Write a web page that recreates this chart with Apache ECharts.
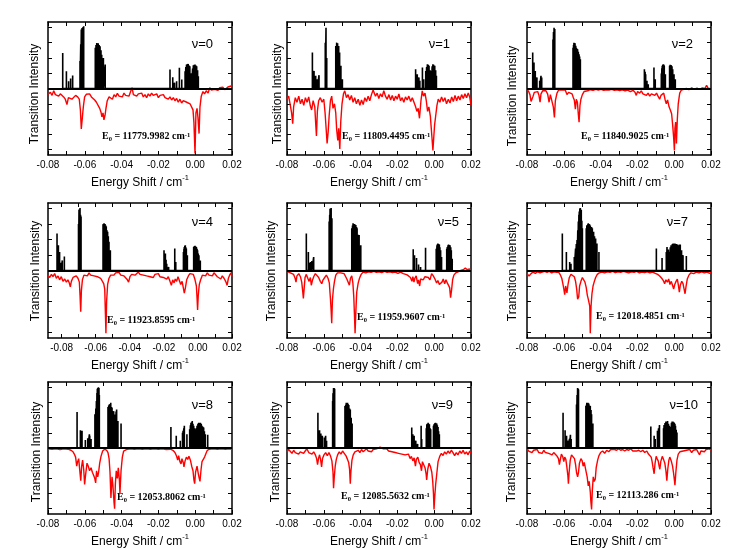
<!DOCTYPE html>
<html><head><meta charset="utf-8">
<script src="https://cdn.jsdelivr.net/npm/echarts@6/dist/echarts.min.js"></script>
<style>html,body{margin:0;padding:0;background:#fff}#c{width:748px;height:549px}</style>
</head><body><div id="c"></div>
<script>
// ---------- DATA ----------
const panelLabels = ['ν=0','ν=1','ν=2','ν=4','ν=5','ν=7','ν=8','ν=9','ν=10'];
const e0Values = ['11779.9982','11809.4495','11840.9025','11923.8595','11959.9607','12018.4851','12053.8062','12085.5632','12113.286'];
const xTickValues = [-0.08,-0.07,-0.06,-0.05,-0.04,-0.03,-0.02,-0.01,0,0.01,0.02];
const xLabelValues = [-0.08,-0.06,-0.04,-0.02,0,0.02];
const yTickValues = [-4,-3,-2,-1,0,1,2,3,4];

// stick spectra [shift, intensity]
const v0Sticks = [[-0.0720,2.33],[-0.0700,1.13],[-0.0688,0.48],[-0.0677,0.65],[-0.0666,0.85],
[-0.0626,1.8],[-0.0622,2.9],[-0.0619,3.86],[-0.0615,3.95],[-0.0611,4.0],[-0.0606,4.07],
[-0.0543,2.66],[-0.0539,2.85],[-0.0535,2.98],[-0.0531,2.95],[-0.0527,2.96],[-0.0522,2.85],[-0.0517,2.77],[-0.0512,2.5],[-0.0508,2.2],[-0.0499,2.0],[-0.0489,1.57],
[-0.0137,1.24],[-0.0122,0.74],[-0.0112,0.37],[-0.0101,0.48],[-0.0086,1.35],[-0.0073,0.59],[-0.0055,1.13],[-0.0051,1.4],[-0.0047,1.57],[-0.0042,1.6],[-0.0038,1.61],[-0.0033,1.5],[-0.0029,1.46],[-0.0020,1.0],[-0.0014,1.3],[-0.0010,1.52],[-0.0005,1.55],[-0.0001,1.57],[0.0004,1.5],[0.0008,1.46],[0.0013,1.2],[0.0017,0.8]];
const v1Sticks = [[-0.0662,2.35],[-0.0653,1.15],[-0.0644,0.83],[-0.0635,0.6],[-0.0626,0.87],
[-0.0592,3.0],[-0.0588,3.98],[-0.0584,2.0],
[-0.0535,2.78],[-0.0530,3.0],[-0.0525,2.96],[-0.0519,2.78],[-0.0514,2.35],[-0.0507,1.48],[-0.0499,0.6],
[-0.0101,1.26],[-0.0092,0.93],[-0.0083,0.72],[-0.0078,0.5],[-0.0064,1.37],[-0.0057,0.6],[-0.0046,1.15],[-0.0041,1.4],[-0.0037,1.59],[-0.0032,1.55],[-0.0028,1.48],[-0.0022,1.2],[-0.0016,1.15],[-0.0011,1.45],[-0.0007,1.59],[-0.0003,1.55],[0.0003,1.48],[0.0008,1.2],[0.0012,0.83]];
const v2Sticks = [[-0.0769,2.35],[-0.0762,1.7],[-0.0755,1.15],[-0.0746,0.72],[-0.0731,0.5],[-0.0724,0.83],[-0.0720,0.72],
[-0.0659,3.2],[-0.0656,3.7],[-0.0653,3.98],[-0.0649,3.9],
[-0.0550,2.67],[-0.0547,2.85],[-0.0545,3.0],[-0.0542,2.98],[-0.0539,2.96],[-0.0535,2.8],[-0.0532,2.67],[-0.0528,2.6],[-0.0525,2.57],[-0.0521,2.4],[-0.0517,2.24],[-0.0514,2.1],[-0.0510,1.91],
[-0.0162,1.26],[-0.0158,1.1],[-0.0155,0.93],[-0.0148,0.5],[-0.0141,0.28],[-0.0110,1.37],[-0.0103,0.6],[-0.0070,0.98],[-0.0067,1.3],[-0.0065,1.48],[-0.0062,1.55],[-0.0059,1.59],[-0.0056,1.55],[-0.0054,1.48],[-0.0048,0.93],[-0.0025,1.48],[-0.0022,1.55],[-0.0019,1.54],[-0.0016,1.52],[-0.0012,1.45],[-0.0008,1.26],[-0.0001,0.93],[0.0006,0.61]];
const v4Sticks = [[-0.0827,2.39],[-0.0819,1.63],[-0.0812,1.2],[-0.0804,0.5],[-0.0796,0.65],[-0.0784,0.91],
[-0.0701,3.0],[-0.0698,3.91],[-0.0695,3.95],[-0.0692,4.02],[-0.0689,3.6],[-0.0686,3.48],
[-0.0557,2.98],[-0.0554,3.0],[-0.0551,3.04],[-0.0548,3.0],[-0.0545,3.0],[-0.0541,2.9],[-0.0538,2.83],[-0.0534,2.6],[-0.0530,2.5],[-0.0526,2.2],[-0.0522,1.85],[-0.0514,1.3],
[-0.0199,1.3],[-0.0195,1.1],[-0.0191,1.09],[-0.0187,0.7],[-0.0183,0.43],[-0.0172,0.22],[-0.0136,1.41],[-0.0130,0.54],[-0.0085,1.2],[-0.0082,1.4],[-0.0080,1.52],[-0.0077,1.6],[-0.0074,1.63],[-0.0071,1.5],[-0.0068,1.41],[-0.0062,0.98],[-0.0025,1.52],[-0.0021,1.58],[-0.0017,1.59],[-0.0013,1.55],[-0.0009,1.52],[-0.0005,1.4],[-0.0002,1.3],[0.0002,1.1],[0.0006,0.98],[0.0014,0.65]];
const v5Sticks = [[-0.0695,2.39],[-0.0684,1.2],[-0.0675,0.5],[-0.0670,0.55],[-0.0665,0.6],[-0.0655,0.87],
[-0.0571,3.15],[-0.0568,3.6],[-0.0566,3.98],[-0.0563,4.0],[-0.0560,4.02],[-0.0556,3.37],
[-0.0448,2.72],[-0.0444,2.9],[-0.0441,3.04],[-0.0437,3.0],[-0.0433,3.0],[-0.0430,2.95],[-0.0426,2.93],[-0.0422,2.8],[-0.0419,2.72],[-0.0413,2.3],[-0.0408,2.28],[-0.0399,1.63],
[-0.0114,1.37],[-0.0107,0.98],[-0.0096,0.8],[-0.0085,0.39],[-0.0074,0.22],[-0.0047,1.46],[0.0011,1.4],[0.0015,1.63],[0.0018,1.7],[0.0020,1.74],[0.0024,1.7],[0.0028,1.67],[0.0031,1.5],[0.0035,1.3],[0.0040,0.87],[0.0068,1.4],[0.0071,1.52],[0.0075,1.63],[0.0078,1.67],[0.0082,1.65],[0.0086,1.63],[0.0090,1.5],[0.0093,1.3],[0.0098,0.76]];
const v7Sticks = [[-0.0608,2.39],[-0.0586,1.2],[-0.0568,0.54],[-0.0561,0.43],[-0.0543,0.87],[-0.0536,1.41],[-0.0532,1.7],[-0.0528,1.96],[-0.0524,2.6],[-0.0521,3.15],[-0.0518,3.6],[-0.0516,3.8],[-0.0513,4.0],[-0.0510,4.02],[-0.0507,3.9],[-0.0505,3.91],[-0.0502,3.2],[-0.0499,2.72],
[-0.0478,2.72],[-0.0475,2.9],[-0.0472,2.93],[-0.0469,3.0],[-0.0467,3.04],[-0.0463,3.0],[-0.0460,2.98],[-0.0456,2.9],[-0.0452,2.72],[-0.0449,2.8],[-0.0445,2.72],[-0.0441,2.5],[-0.0438,2.5],[-0.0433,2.2],[-0.0427,2.07],[-0.0420,1.74],[-0.0409,1.2],
[-0.0097,1.41],[-0.0066,0.8],[-0.0043,1.2],[-0.0039,1.52],[-0.0032,1.35],[-0.0028,1.2],[-0.0021,1.5],[-0.0017,1.63],[-0.0010,1.7],[-0.0006,1.74],[-0.0003,1.74],[0.0001,1.72],[0.0004,1.74],[0.0008,1.63],[0.0012,1.7],[0.0015,1.65],[0.0019,1.67],[0.0023,1.6],[0.0026,1.63],[0.0030,1.67],[0.0033,1.67],[0.0037,1.3],[0.0040,1.3],[0.0044,1.0],[0.0048,0.98],[0.0066,0.93]];
const v8Sticks = [[-0.0642,2.37],[-0.0624,1.17],[-0.0615,1.13],[-0.0597,0.52],[-0.0584,0.65],[-0.0575,0.9],[-0.0573,0.8],[-0.0566,0.59],
[-0.0545,2.22],[-0.0540,2.6],[-0.0537,3.09],[-0.0534,3.6],[-0.0532,3.91],[-0.0529,3.95],[-0.0526,4.0],[-0.0523,3.96],[-0.0521,3.5],
[-0.0474,2.7],[-0.0470,2.8],[-0.0467,2.87],[-0.0463,2.9],[-0.0459,2.98],[-0.0455,2.7],[-0.0452,2.65],[-0.0447,2.4],[-0.0443,2.43],[-0.0439,2.2],[-0.0434,2.0],[-0.0430,2.4],[-0.0427,2.54],[-0.0420,1.78],[-0.0403,1.61],
[-0.0132,1.39],[-0.0103,0.8],[-0.0081,0.48],[-0.0069,1.0],[-0.0066,1.13],[-0.0062,1.3],[-0.0059,1.46],[-0.0045,0.91],[-0.0030,1.24],[-0.0026,1.5],[-0.0023,1.67],[-0.0019,1.7],[-0.0016,1.78],[-0.0012,1.6],[-0.0008,1.46],[-0.0004,1.3],[-0.0001,1.24],[0.0006,1.3],[0.0010,1.46],[0.0015,1.6],[0.0019,1.67],[0.0023,1.65],[0.0028,1.67],[0.0033,1.6],[0.0037,1.46],[0.0042,1.4],[0.0046,1.35],[0.0050,1.1],[0.0055,0.91],[0.0068,0.87]];
const v9Sticks = [[-0.0632,2.33],[-0.0623,1.17],[-0.0616,0.96],[-0.0608,0.8],[-0.0597,0.7],[-0.0590,0.8],[-0.0585,0.48],
[-0.0552,3.09],[-0.0550,3.6],[-0.0547,3.96],[-0.0544,3.95],[-0.0541,3.91],
[-0.0485,2.76],[-0.0481,2.85],[-0.0478,2.98],[-0.0475,2.96],[-0.0471,2.98],[-0.0468,2.9],[-0.0464,2.83],[-0.0460,2.6],[-0.0456,2.54],[-0.0451,2.0],[-0.0446,1.61],
[-0.0122,1.35],[-0.0116,0.9],[-0.0109,0.8],[-0.0100,0.48],[-0.0090,0.26],[-0.0071,1.46],[-0.0068,0.6],[-0.0043,1.3],[-0.0040,1.56],[-0.0037,1.6],[-0.0033,1.67],[-0.0030,1.6],[-0.0026,1.56],[-0.0022,1.3],[-0.0019,1.24],[-0.0004,1.46],[-0.0001,1.56],[0.0003,1.63],[0.0007,1.67],[0.0010,1.63],[0.0014,1.61],[0.0017,1.5],[0.0021,1.39],[0.0024,1.1],[0.0028,0.91]];
const v10Sticks = [[-0.0604,2.33],[-0.0593,1.17],[-0.0585,0.8],[-0.0576,0.48],[-0.0569,0.6],[-0.0564,0.87],[-0.0560,0.59],
[-0.0531,2.87],[-0.0528,3.5],[-0.0525,3.96],[-0.0522,3.9],[-0.0520,3.85],
[-0.0480,2.76],[-0.0477,2.85],[-0.0475,2.98],[-0.0472,2.96],[-0.0469,2.98],[-0.0466,2.95],[-0.0464,2.91],[-0.0460,2.8],[-0.0456,2.76],[-0.0452,2.5],[-0.0449,2.22],[-0.0442,1.61],
[-0.0127,1.41],[-0.0109,0.8],[-0.0103,0.59],[-0.0091,1.13],[-0.0085,1.3],[-0.0080,1.52],[-0.0058,1.3],[-0.0055,1.52],[-0.0050,1.65],[-0.0045,1.74],[-0.0041,1.7],[-0.0036,1.78],[-0.0031,1.6],[-0.0027,1.46],[-0.0019,1.4],[-0.0015,1.67],[-0.0011,1.74],[-0.0007,1.74],[-0.0003,1.7],[0.0000,1.67],[0.0004,1.6],[0.0007,1.46],[0.0011,1.2],[0.0015,1.02]];

// measured (red) spectra [shift, -intensity]
const v0Red = [[-0.0800,-0.37],[-0.0787,-0.25],[-0.0778,-0.45],[-0.0769,-0.15],[-0.0760,-0.40],[-0.0751,-0.30],[-0.0742,-0.50],[-0.0733,-0.35],[-0.0724,-0.28],[-0.0715,-0.55],[-0.0706,-0.70],[-0.0697,-1.05],[-0.0689,-0.60],[-0.0679,-0.55],[-0.0670,-0.70],[-0.0661,-0.62],[-0.0650,-0.45],[-0.0639,-0.55],[-0.0630,-0.70],[-0.0624,-1.4],[-0.0619,-2.65],[-0.0613,-2.76],[-0.0608,-1.2],[-0.0601,-0.55],[-0.0592,-0.38],[-0.0583,-0.50],[-0.0574,-0.35],[-0.0564,-0.55],[-0.0555,-0.60],[-0.0546,-0.75],[-0.0537,-0.90],[-0.0528,-1.00],[-0.0519,-1.30],[-0.0512,-1.55],[-0.0507,-1.85],[-0.0501,-1.60],[-0.0496,-2.05],[-0.0490,-1.75],[-0.0485,-1.30],[-0.0478,-0.80],[-0.0468,-0.55],[-0.0459,-0.48],[-0.0450,-0.70],[-0.0441,-0.40],[-0.0432,-0.55],[-0.0423,-0.32],[-0.0414,-0.50],[-0.0405,-0.38],[-0.0396,-0.55],[-0.0387,-0.30],[-0.0378,-0.45],[-0.0369,-0.35],[-0.0360,-0.50],[-0.0351,-0.20],[-0.0343,0.05],[-0.0336,-0.40],[-0.0327,-0.30],[-0.0318,-0.50],[-0.0309,-0.35],[-0.0300,-0.45],[-0.0291,-0.30],[-0.0282,-0.55],[-0.0273,-0.40],[-0.0264,-0.60],[-0.0255,-0.35],[-0.0246,-0.50],[-0.0237,-0.30],[-0.0228,-0.45],[-0.0218,-0.55],[-0.0209,-0.35],[-0.0200,-0.60],[-0.0191,-0.45],[-0.0182,-0.55],[-0.0173,-0.40],[-0.0164,-0.60],[-0.0155,-0.50],[-0.0146,-0.70],[-0.0137,-0.55],[-0.0128,-0.75],[-0.0119,-0.60],[-0.0110,-0.80],[-0.0101,-0.65],[-0.0092,-0.90],[-0.0083,-0.70],[-0.0074,-0.95],[-0.0065,-0.80],[-0.0055,-0.75],[-0.0046,-0.90],[-0.0037,-0.80],[-0.0028,-1.00],[-0.0019,-1.10],[-0.0012,-1.40],[-0.0007,-2.2],[-0.0001,-4.25],[0.0004,-1.6],[0.0010,-1.3],[0.0015,-1.9],[0.0021,-2.95],[0.0026,-1.2],[0.0033,-0.5],[0.0042,-0.20],[0.0051,-0.35],[0.0060,-0.15],[0.0070,-0.30],[0.0079,0.05],[0.0088,-0.10],[0.0097,-0.20],[0.0106,-0.05],[0.0115,0.00],[0.0124,-0.12],[0.0133,0.05],[0.0142,-0.05],[0.0151,0.08],[0.0160,-0.08],[0.0169,0.05],[0.0178,0.10],[0.0187,0.02],[0.0200,0.18]];
const v1Red = [[-0.0800,-0.70],[-0.0791,-0.50],[-0.0782,-1.10],[-0.0775,-1.60],[-0.0769,-2.30],[-0.0764,-1.20],[-0.0755,-0.60],[-0.0746,-0.90],[-0.0736,-0.50],[-0.0727,-1.00],[-0.0718,-0.70],[-0.0709,-1.10],[-0.0700,-0.60],[-0.0691,-0.90],[-0.0682,-0.55],[-0.0673,-1.15],[-0.0666,-1.40],[-0.0658,-0.80],[-0.0649,-1.20],[-0.0644,-2.30],[-0.0640,-3.10],[-0.0635,-1.50],[-0.0628,-0.80],[-0.0619,-0.60],[-0.0609,-0.90],[-0.0600,-0.70],[-0.0593,-1.60],[-0.0588,-2.50],[-0.0582,-3.60],[-0.0576,-2.80],[-0.0571,-1.80],[-0.0564,-0.80],[-0.0557,-0.50],[-0.0550,-1.30],[-0.0542,-1.00],[-0.0535,-1.60],[-0.0530,-2.70],[-0.0524,-3.40],[-0.0519,-2.60],[-0.0513,-3.95],[-0.0508,-2.20],[-0.0501,-1.00],[-0.0493,-0.35],[-0.0486,-0.15],[-0.0477,-0.60],[-0.0468,-0.40],[-0.0459,-0.75],[-0.0450,-0.45],[-0.0441,-0.90],[-0.0432,-0.60],[-0.0423,-1.00],[-0.0413,-0.70],[-0.0404,-1.10],[-0.0395,-0.75],[-0.0386,-1.05],[-0.0377,-0.60],[-0.0368,-0.85],[-0.0359,-0.50],[-0.0350,-0.80],[-0.0341,-0.40],[-0.0332,-0.10],[-0.0326,0.00],[-0.0319,-0.50],[-0.0310,-0.30],[-0.0301,-0.65],[-0.0292,-0.35],[-0.0283,-0.55],[-0.0274,-0.15],[-0.0265,-0.50],[-0.0256,-0.70],[-0.0246,-0.40],[-0.0237,-0.75],[-0.0228,-0.45],[-0.0219,-0.80],[-0.0210,-0.50],[-0.0201,-0.70],[-0.0192,-0.35],[-0.0183,-0.80],[-0.0174,-0.60],[-0.0165,-0.90],[-0.0156,-0.55],[-0.0147,-0.75],[-0.0138,-0.50],[-0.0128,-0.85],[-0.0119,-0.60],[-0.0110,-0.90],[-0.0101,-1.20],[-0.0094,-1.50],[-0.0087,-1.30],[-0.0080,-1.95],[-0.0072,-0.80],[-0.0065,-0.15],[-0.0058,-0.50],[-0.0050,-0.30],[-0.0043,-0.80],[-0.0036,-1.50],[-0.0029,-1.20],[-0.0021,-1.80],[-0.0016,-2.60],[-0.0011,-3.40],[-0.0007,-4.05],[-0.0003,-3.30],[0.0002,-2.40],[0.0008,-1.80],[0.0015,-1.10],[0.0022,-0.70],[0.0031,-0.90],[0.0040,-0.55],[0.0049,-0.85],[0.0058,-0.60],[0.0067,-1.00],[0.0077,-0.70],[0.0086,-0.95],[0.0095,-0.55],[0.0104,-0.85],[0.0113,-0.45],[0.0122,-0.80],[0.0131,-0.50],[0.0140,-0.75],[0.0149,-0.40],[0.0158,-0.65],[0.0167,-0.35],[0.0176,-0.60],[0.0185,-0.30],[0.0193,-0.55],[0.0200,-1.10]];
const v2Red = [[-0.0800,-0.05],[-0.0791,-0.20],[-0.0784,-0.40],[-0.0778,-0.85],[-0.0773,-0.95],[-0.0767,-0.50],[-0.0760,-0.25],[-0.0751,-0.15],[-0.0742,-0.20],[-0.0735,-0.45],[-0.0729,-0.90],[-0.0724,-0.35],[-0.0715,-0.15],[-0.0706,-0.25],[-0.0697,-0.15],[-0.0688,-0.35],[-0.0680,-0.90],[-0.0673,-0.40],[-0.0664,-0.30],[-0.0657,-1.20],[-0.0651,-1.90],[-0.0646,-0.80],[-0.0637,-0.30],[-0.0628,-0.10],[-0.0619,-0.20],[-0.0610,-0.08],[-0.0601,-0.15],[-0.0592,-0.10],[-0.0583,-0.40],[-0.0574,-0.25],[-0.0565,-0.20],[-0.0555,-0.35],[-0.0548,-0.60],[-0.0543,-0.75],[-0.0537,-1.35],[-0.0532,-0.70],[-0.0526,-0.90],[-0.0521,-1.70],[-0.0517,-2.20],[-0.0512,-1.10],[-0.0507,-0.70],[-0.0499,-0.40],[-0.0490,-0.20],[-0.0481,-0.10],[-0.0470,-0.15],[-0.0456,-0.08],[-0.0441,-0.12],[-0.0427,-0.05],[-0.0412,-0.10],[-0.0398,-0.06],[-0.0383,-0.12],[-0.0369,-0.08],[-0.0354,-0.10],[-0.0340,-0.05],[-0.0325,-0.12],[-0.0311,-0.08],[-0.0296,-0.14],[-0.0282,-0.08],[-0.0267,-0.15],[-0.0253,-0.10],[-0.0238,-0.20],[-0.0224,-0.12],[-0.0213,-0.25],[-0.0206,-0.45],[-0.0199,-0.20],[-0.0188,-0.30],[-0.0179,-0.15],[-0.0170,-0.35],[-0.0161,-0.25],[-0.0151,-0.45],[-0.0142,-0.30],[-0.0133,-0.50],[-0.0124,-0.35],[-0.0115,-0.25],[-0.0105,-0.45],[-0.0096,-0.30],[-0.0088,-0.50],[-0.0079,-0.70],[-0.0072,-0.45],[-0.0064,-0.55],[-0.0057,-0.30],[-0.0050,-0.70],[-0.0043,-1.00],[-0.0036,-0.75],[-0.0028,-1.20],[-0.0021,-1.40],[-0.0014,-1.65],[-0.0009,-2.30],[-0.0003,-3.20],[0.0001,-4.05],[0.0004,-2.60],[0.0008,-2.20],[0.0012,-3.60],[0.0017,-2.00],[0.0022,-1.00],[0.0030,-0.30],[0.0039,-0.10],[0.0051,-0.05],[0.0066,0.00],[0.0080,-0.08],[0.0095,0.05],[0.0109,-0.05],[0.0124,0.02],[0.0138,-0.06],[0.0153,0.04],[0.0167,0.00],[0.0176,0.20],[0.0184,0.02],[0.0200,-0.02]];
const v4Red = [[-0.0880,-0.30],[-0.0870,-0.45],[-0.0860,-0.25],[-0.0851,-0.40],[-0.0841,-0.20],[-0.0831,-0.50],[-0.0821,-0.35],[-0.0812,-0.60],[-0.0802,-0.40],[-0.0792,-0.70],[-0.0782,-0.55],[-0.0772,-0.75],[-0.0763,-0.60],[-0.0755,-0.80],[-0.0749,-1.05],[-0.0743,-0.70],[-0.0733,-0.45],[-0.0723,-0.55],[-0.0714,-0.35],[-0.0704,-0.50],[-0.0696,-0.75],[-0.0692,-1.60],[-0.0688,-2.65],[-0.0684,-1.30],[-0.0678,-0.60],[-0.0669,-0.30],[-0.0659,-0.20],[-0.0649,-0.35],[-0.0639,-0.15],[-0.0630,-0.30],[-0.0620,-0.20],[-0.0610,-0.35],[-0.0600,-0.25],[-0.0590,-0.40],[-0.0581,-0.30],[-0.0571,-0.50],[-0.0561,-0.60],[-0.0553,-0.85],[-0.0547,-1.20],[-0.0543,-2.80],[-0.0540,-4.05],[-0.0536,-2.00],[-0.0530,-0.90],[-0.0522,-0.50],[-0.0512,-0.30],[-0.0502,-0.20],[-0.0493,-0.30],[-0.0483,-0.15],[-0.0473,-0.25],[-0.0463,-0.12],[-0.0453,-0.30],[-0.0444,-0.20],[-0.0434,-0.35],[-0.0424,-0.45],[-0.0414,-0.60],[-0.0407,-0.75],[-0.0399,-0.40],[-0.0389,-0.25],[-0.0379,-0.15],[-0.0369,-0.30],[-0.0360,-0.20],[-0.0350,-0.10],[-0.0340,-0.25],[-0.0330,-0.15],[-0.0320,-0.30],[-0.0311,-0.20],[-0.0301,-0.35],[-0.0291,-0.25],[-0.0281,-0.40],[-0.0271,-0.30],[-0.0262,-0.45],[-0.0252,-0.25],[-0.0242,-0.35],[-0.0232,-0.20],[-0.0223,-0.40],[-0.0213,-0.30],[-0.0203,-0.45],[-0.0193,-0.35],[-0.0183,-0.55],[-0.0174,-0.40],[-0.0164,-0.70],[-0.0156,-0.95],[-0.0148,-0.60],[-0.0140,-0.80],[-0.0133,-0.55],[-0.0125,-0.70],[-0.0117,-0.40],[-0.0109,-0.65],[-0.0101,-0.90],[-0.0093,-0.70],[-0.0086,-1.10],[-0.0080,-1.45],[-0.0074,-1.15],[-0.0066,-0.60],[-0.0056,-0.35],[-0.0047,-0.20],[-0.0037,-0.30],[-0.0027,-0.25],[-0.0017,-0.60],[-0.0009,-1.00],[-0.0005,-1.80],[-0.0002,-2.55],[0.0002,-1.60],[0.0008,-0.90],[0.0016,-0.60],[0.0026,-0.30],[0.0036,-0.20],[0.0045,-0.35],[0.0055,-0.15],[0.0065,-0.30],[0.0075,-0.20],[0.0085,-0.35],[0.0094,-0.15],[0.0104,-0.25],[0.0114,-0.40],[0.0124,-0.30],[0.0134,-0.55],[0.0143,-0.35],[0.0153,-0.50],[0.0163,-0.70],[0.0171,-0.95],[0.0179,-0.50],[0.0186,-0.30],[0.0194,-0.15],[0.0200,-0.40]];
const v5Red = [[-0.0800,-0.05],[-0.0791,-0.10],[-0.0782,-0.15],[-0.0773,-0.10],[-0.0764,-0.25],[-0.0756,-0.50],[-0.0751,-0.75],[-0.0746,-0.35],[-0.0736,-0.20],[-0.0727,-0.40],[-0.0720,-0.75],[-0.0715,-1.30],[-0.0711,-1.80],[-0.0707,-1.20],[-0.0702,-0.45],[-0.0695,-0.25],[-0.0687,-0.50],[-0.0680,-0.70],[-0.0673,-0.45],[-0.0668,-0.95],[-0.0662,-0.65],[-0.0655,-0.40],[-0.0646,-0.20],[-0.0637,-0.30],[-0.0628,-0.45],[-0.0619,-0.70],[-0.0611,-0.85],[-0.0604,-0.60],[-0.0595,-0.45],[-0.0586,-0.30],[-0.0577,-0.50],[-0.0570,-0.80],[-0.0564,-1.80],[-0.0560,-2.60],[-0.0557,-3.40],[-0.0553,-1.90],[-0.0548,-1.20],[-0.0542,-0.70],[-0.0535,-0.30],[-0.0526,-0.15],[-0.0517,-0.10],[-0.0508,-0.15],[-0.0499,-0.08],[-0.0490,-0.20],[-0.0481,-0.40],[-0.0473,-0.60],[-0.0466,-0.50],[-0.0461,-0.95],[-0.0455,-0.50],[-0.0448,-0.35],[-0.0442,-0.80],[-0.0437,-1.70],[-0.0433,-3.00],[-0.0430,-4.05],[-0.0426,-2.70],[-0.0421,-1.40],[-0.0413,-0.80],[-0.0406,-0.50],[-0.0397,-0.25],[-0.0386,-0.10],[-0.0372,-0.15],[-0.0357,-0.08],[-0.0343,-0.12],[-0.0328,-0.06],[-0.0314,-0.12],[-0.0299,-0.08],[-0.0285,-0.14],[-0.0270,-0.06],[-0.0256,-0.12],[-0.0241,-0.08],[-0.0227,-0.14],[-0.0212,-0.10],[-0.0197,-0.18],[-0.0183,-0.10],[-0.0168,-0.20],[-0.0158,-0.15],[-0.0147,-0.28],[-0.0138,-0.20],[-0.0129,-0.45],[-0.0121,-0.70],[-0.0116,-0.40],[-0.0110,-0.75],[-0.0105,-0.50],[-0.0098,-0.35],[-0.0090,-0.85],[-0.0085,-0.60],[-0.0079,-1.00],[-0.0074,-0.55],[-0.0067,-0.45],[-0.0060,-0.60],[-0.0050,-0.40],[-0.0041,-0.30],[-0.0032,-0.45],[-0.0023,-0.60],[-0.0014,-0.20],[-0.0005,-0.35],[0.0004,-0.55],[0.0013,-0.80],[0.0020,-0.65],[0.0028,-0.90],[0.0035,-1.00],[0.0042,-0.75],[0.0049,-0.55],[0.0057,-0.85],[0.0064,-0.60],[0.0071,-0.80],[0.0078,-0.70],[0.0084,-1.10],[0.0089,-1.75],[0.0095,-1.20],[0.0100,-0.60],[0.0107,-0.30],[0.0117,-0.15],[0.0126,-0.08],[0.0136,-0.05],[0.0147,0.02],[0.0158,0.05],[0.0169,0.15],[0.0180,0.05],[0.0191,0.10],[0.0200,0.00]];
const v7Red = [[-0.0800,-0.20],[-0.0789,-0.35],[-0.0778,-0.20],[-0.0767,-0.10],[-0.0755,-0.18],[-0.0742,-0.08],[-0.0729,-0.15],[-0.0717,-0.10],[-0.0704,-0.05],[-0.0691,-0.12],[-0.0679,-0.06],[-0.0666,-0.15],[-0.0653,-0.08],[-0.0640,-0.12],[-0.0628,-0.10],[-0.0618,-0.30],[-0.0611,-0.50],[-0.0606,-0.80],[-0.0601,-1.10],[-0.0595,-1.55],[-0.0590,-1.00],[-0.0586,-1.20],[-0.0583,-1.45],[-0.0577,-0.90],[-0.0570,-0.45],[-0.0561,-0.25],[-0.0552,-0.30],[-0.0543,-0.40],[-0.0536,-0.70],[-0.0530,-1.20],[-0.0525,-1.85],[-0.0519,-1.70],[-0.0514,-1.00],[-0.0507,-0.70],[-0.0499,-0.45],[-0.0492,-0.55],[-0.0485,-0.75],[-0.0478,-1.10],[-0.0472,-1.60],[-0.0467,-1.85],[-0.0463,-1.95],[-0.0459,-2.30],[-0.0456,-4.05],[-0.0452,-2.30],[-0.0447,-1.50],[-0.0441,-1.00],[-0.0434,-0.70],[-0.0427,-0.45],[-0.0418,-0.25],[-0.0407,-0.15],[-0.0392,-0.10],[-0.0378,-0.15],[-0.0363,-0.08],[-0.0349,-0.12],[-0.0334,-0.06],[-0.0320,-0.14],[-0.0305,-0.08],[-0.0291,-0.12],[-0.0276,-0.05],[-0.0262,-0.10],[-0.0247,-0.15],[-0.0233,-0.08],[-0.0218,-0.12],[-0.0204,-0.05],[-0.0189,-0.15],[-0.0175,-0.10],[-0.0161,-0.14],[-0.0146,-0.08],[-0.0132,-0.15],[-0.0117,-0.10],[-0.0103,-0.18],[-0.0090,-0.25],[-0.0079,-0.35],[-0.0068,-0.50],[-0.0059,-0.65],[-0.0052,-0.85],[-0.0045,-0.60],[-0.0037,-0.75],[-0.0030,-0.55],[-0.0023,-0.90],[-0.0016,-0.70],[-0.0009,-0.95],[-0.0003,-1.20],[0.0003,-0.90],[0.0010,-0.70],[0.0017,-0.55],[0.0022,-0.90],[0.0028,-1.40],[0.0033,-0.95],[0.0041,-0.70],[0.0048,-0.85],[0.0053,-1.15],[0.0059,-1.50],[0.0064,-1.05],[0.0071,-0.55],[0.0080,-0.30],[0.0091,-0.15],[0.0106,-0.20],[0.0120,-0.10],[0.0135,-0.15],[0.0149,-0.08],[0.0164,-0.15],[0.0178,-0.10],[0.0193,-0.18],[0.0200,-0.12]];
const v8Red = [[-0.0800,-0.05],[-0.0778,-0.08],[-0.0757,-0.05],[-0.0735,-0.10],[-0.0713,-0.06],[-0.0691,-0.08],[-0.0675,-0.15],[-0.0664,-0.25],[-0.0657,-0.40],[-0.0650,-0.60],[-0.0644,-1.20],[-0.0639,-0.90],[-0.0633,-0.70],[-0.0628,-1.40],[-0.0622,-2.15],[-0.0617,-1.20],[-0.0612,-0.80],[-0.0606,-1.40],[-0.0601,-2.40],[-0.0595,-1.70],[-0.0588,-1.00],[-0.0581,-1.20],[-0.0574,-1.50],[-0.0566,-1.30],[-0.0559,-1.60],[-0.0552,-1.80],[-0.0546,-2.00],[-0.0541,-2.30],[-0.0536,-1.50],[-0.0530,-1.90],[-0.0525,-1.60],[-0.0519,-1.00],[-0.0512,-0.55],[-0.0503,-0.20],[-0.0492,-0.08],[-0.0481,-0.15],[-0.0474,-0.30],[-0.0468,-0.70],[-0.0463,-1.60],[-0.0458,-3.30],[-0.0452,-1.90],[-0.0447,-2.50],[-0.0441,-3.60],[-0.0438,-4.00],[-0.0434,-2.40],[-0.0429,-1.50],[-0.0423,-2.00],[-0.0418,-1.30],[-0.0412,-2.10],[-0.0409,-3.00],[-0.0403,-1.50],[-0.0396,-0.60],[-0.0389,-0.20],[-0.0374,-0.10],[-0.0353,-0.06],[-0.0331,-0.09],[-0.0309,-0.05],[-0.0287,-0.08],[-0.0266,-0.06],[-0.0244,-0.09],[-0.0222,-0.05],[-0.0200,-0.08],[-0.0179,-0.06],[-0.0157,-0.10],[-0.0135,-0.08],[-0.0121,-0.15],[-0.0110,-0.30],[-0.0101,-0.55],[-0.0095,-0.80],[-0.0090,-0.50],[-0.0083,-0.90],[-0.0077,-1.05],[-0.0072,-0.70],[-0.0064,-1.00],[-0.0061,-1.25],[-0.0055,-0.85],[-0.0048,-0.60],[-0.0041,-0.75],[-0.0034,-0.55],[-0.0026,-0.80],[-0.0019,-1.20],[-0.0012,-1.50],[-0.0007,-2.10],[-0.0003,-2.35],[0.0002,-1.60],[0.0010,-1.20],[0.0017,-1.70],[0.0022,-2.00],[0.0026,-2.20],[0.0032,-1.40],[0.0037,-0.90],[0.0044,-0.95],[0.0051,-0.60],[0.0059,-0.35],[0.0066,-0.15],[0.0077,-0.08],[0.0099,-0.05],[0.0120,-0.08],[0.0142,-0.05],[0.0164,-0.08],[0.0186,-0.05],[0.0200,-0.07]];
const v9Red = [[-0.0800,-0.25],[-0.0791,-0.10],[-0.0782,-0.20],[-0.0773,-0.35],[-0.0764,-0.15],[-0.0755,-0.30],[-0.0746,-0.20],[-0.0737,-0.40],[-0.0728,-0.25],[-0.0719,-0.15],[-0.0710,-0.35],[-0.0701,-0.20],[-0.0692,-0.05],[-0.0682,-0.30],[-0.0673,-0.20],[-0.0664,-0.40],[-0.0655,-0.25],[-0.0646,-0.45],[-0.0639,-0.70],[-0.0634,-1.10],[-0.0628,-0.65],[-0.0623,-0.45],[-0.0617,-0.80],[-0.0612,-1.25],[-0.0607,-0.70],[-0.0599,-0.45],[-0.0590,-0.30],[-0.0581,-0.50],[-0.0572,-0.30],[-0.0563,-0.55],[-0.0556,-0.85],[-0.0550,-1.60],[-0.0547,-2.65],[-0.0543,-1.90],[-0.0538,-1.20],[-0.0532,-0.75],[-0.0525,-0.45],[-0.0516,-0.25],[-0.0507,-0.40],[-0.0498,-0.20],[-0.0489,-0.35],[-0.0480,-0.50],[-0.0473,-0.70],[-0.0465,-0.95],[-0.0460,-1.40],[-0.0456,-2.35],[-0.0453,-1.60],[-0.0447,-0.80],[-0.0440,-0.45],[-0.0431,-0.25],[-0.0422,-0.35],[-0.0413,-0.15],[-0.0404,-0.30],[-0.0395,-0.10],[-0.0386,-0.25],[-0.0377,-0.15],[-0.0368,-0.05],[-0.0359,-0.20],[-0.0350,-0.10],[-0.0341,-0.25],[-0.0332,-0.10],[-0.0323,-0.15],[-0.0314,-0.05],[-0.0305,-0.10],[-0.0294,0.05],[-0.0285,0.12],[-0.0276,-0.05],[-0.0267,-0.15],[-0.0258,-0.05],[-0.0248,-0.20],[-0.0239,-0.10],[-0.0230,-0.25],[-0.0221,-0.15],[-0.0212,-0.30],[-0.0203,-0.20],[-0.0194,-0.35],[-0.0185,-0.25],[-0.0176,-0.40],[-0.0167,-0.30],[-0.0158,-0.45],[-0.0149,-0.55],[-0.0140,-0.40],[-0.0131,-0.70],[-0.0124,-0.55],[-0.0116,-0.85],[-0.0109,-0.65],[-0.0102,-1.20],[-0.0097,-0.75],[-0.0089,-0.60],[-0.0082,-0.95],[-0.0075,-1.10],[-0.0069,-1.50],[-0.0064,-0.90],[-0.0057,-1.00],[-0.0050,-1.30],[-0.0044,-1.70],[-0.0041,-2.10],[-0.0035,-1.40],[-0.0028,-1.00],[-0.0021,-1.20],[-0.0013,-1.60],[-0.0008,-2.20],[-0.0004,-3.00],[-0.0001,-4.05],[0.0003,-3.20],[0.0008,-2.40],[0.0014,-1.70],[0.0021,-0.90],[0.0030,-0.55],[0.0039,-0.35],[0.0048,-0.50],[0.0057,-0.25],[0.0066,-0.40],[0.0075,-0.20],[0.0084,-0.35],[0.0093,-0.15],[0.0102,-0.30],[0.0111,-0.50],[0.0120,-0.30],[0.0129,-0.45],[0.0139,-0.20],[0.0148,-0.35],[0.0157,-0.15],[0.0166,-0.40],[0.0175,-0.25],[0.0184,-0.45],[0.0193,-0.20],[0.0200,-0.35]];
const v10Red = [[-0.0800,-0.05],[-0.0791,-0.20],[-0.0782,-0.10],[-0.0773,-0.30],[-0.0764,-0.15],[-0.0755,-0.25],[-0.0745,-0.10],[-0.0736,-0.30],[-0.0727,-0.20],[-0.0718,-0.35],[-0.0709,-0.15],[-0.0700,-0.30],[-0.0691,-0.20],[-0.0682,-0.35],[-0.0673,-0.25],[-0.0664,-0.45],[-0.0655,-0.30],[-0.0645,-0.40],[-0.0636,-0.55],[-0.0629,-0.70],[-0.0624,-1.10],[-0.0618,-0.70],[-0.0613,-0.40],[-0.0605,-0.60],[-0.0600,-0.90],[-0.0595,-0.60],[-0.0589,-0.75],[-0.0584,-1.20],[-0.0578,-1.80],[-0.0575,-2.35],[-0.0571,-1.60],[-0.0565,-0.80],[-0.0558,-0.45],[-0.0549,-0.55],[-0.0542,-0.70],[-0.0536,-1.10],[-0.0531,-1.60],[-0.0525,-1.90],[-0.0520,-1.60],[-0.0515,-1.00],[-0.0507,-0.70],[-0.0500,-0.85],[-0.0495,-1.20],[-0.0489,-0.95],[-0.0484,-1.25],[-0.0478,-1.60],[-0.0473,-1.90],[-0.0467,-2.50],[-0.0462,-2.20],[-0.0456,-2.90],[-0.0453,-3.50],[-0.0449,-4.05],[-0.0445,-2.80],[-0.0440,-1.90],[-0.0435,-2.20],[-0.0429,-2.05],[-0.0424,-1.30],[-0.0416,-0.80],[-0.0409,-0.50],[-0.0400,-0.30],[-0.0389,-0.20],[-0.0378,-0.35],[-0.0367,-0.15],[-0.0356,-0.25],[-0.0345,-0.10],[-0.0335,-0.20],[-0.0324,-0.10],[-0.0313,-0.15],[-0.0302,-0.05],[-0.0291,-0.15],[-0.0280,-0.10],[-0.0269,-0.20],[-0.0258,-0.10],[-0.0247,-0.15],[-0.0236,-0.05],[-0.0225,-0.20],[-0.0215,-0.10],[-0.0204,-0.20],[-0.0193,-0.15],[-0.0182,-0.25],[-0.0171,-0.15],[-0.0160,-0.30],[-0.0149,-0.20],[-0.0140,-0.40],[-0.0133,-0.30],[-0.0125,-0.60],[-0.0120,-0.90],[-0.0115,-1.30],[-0.0109,-1.70],[-0.0104,-1.00],[-0.0098,-0.55],[-0.0093,-0.70],[-0.0087,-0.85],[-0.0082,-1.20],[-0.0078,-1.40],[-0.0073,-0.90],[-0.0065,-0.55],[-0.0058,-0.75],[-0.0051,-1.00],[-0.0045,-1.50],[-0.0040,-2.15],[-0.0035,-1.40],[-0.0029,-0.80],[-0.0024,-0.60],[-0.0016,-0.85],[-0.0009,-1.20],[-0.0004,-1.60],[0.0000,-2.00],[0.0004,-2.45],[0.0009,-1.60],[0.0015,-0.80],[0.0022,-0.40],[0.0031,-0.25],[0.0040,-0.35],[0.0049,-0.20],[0.0058,-0.30],[0.0067,-0.15],[0.0076,-0.25],[0.0085,-0.10],[0.0095,-0.30],[0.0104,-0.15],[0.0113,-0.25],[0.0122,-0.10],[0.0131,-0.30],[0.0138,-0.45],[0.0145,-0.20],[0.0155,-0.10],[0.0164,-0.25],[0.0173,-0.10],[0.0182,-0.20],[0.0191,-0.05],[0.0200,-0.15]];

const sticksAll = [v0Sticks,v1Sticks,v2Sticks,v4Sticks,v5Sticks,v7Sticks,v8Sticks,v9Sticks,v10Sticks];
const redAll = [v0Red,v1Red,v2Red,v4Red,v5Red,v7Red,v8Red,v9Red,v10Red];
const xMinAll = [-0.08,-0.08,-0.08,-0.088,-0.08,-0.08,-0.08,-0.08,-0.08];
const xMax = 0.02, yMin = -4.35, yMax = 4.35;

// ---------- LAYOUT ----------
const colLeft = [48, 287, 527];
const rowTop = [22, 203, 382];
const rowH = [133, 135, 134];
const plotW = 184;
const nuPos = [[213,44],[450,44],[693,44],[213,222],[459,222],[688,222],[213,405],[453,405],[698,405]];
const e0Pos = [[102,137],[342,137],[581,137],[107,321],[357,318],[596,317],[117,498],[341,497],[596,496]];
const yTitlePos = [[35,94],[278,94],[513,96],[36,271],[272,271],[513,271],[37,452],[276,452],[512,452]];

const SANS = 'Liberation Sans, Arial, sans-serif';
const SERIF = 'Liberation Serif, Times New Roman, serif';

const grids = [], xAxes = [], yAxes = [], series = [], graphics = [];
for (let i = 0; i < 9; i++) {
  const r = Math.floor(i / 3), c = i % 3;
  grids.push({left: colLeft[c], top: rowTop[r], width: plotW, height: rowH[r]});
  const axLine = {show: true, onZero: false, lineStyle: {color: '#000', width: 1.5}};
  const xt = {show: true, inside: true, length: 4, customValues: xTickValues.filter(v => v >= xMinAll[i] - 1e-9), lineStyle: {color: '#000', width: 1}};
  const yt = {show: true, inside: true, length: 4, customValues: yTickValues, lineStyle: {color: '#000', width: 1}};
  xAxes.push({
    gridIndex: i, type: 'value', position: 'bottom', min: xMinAll[i], max: xMax,
    axisLine: axLine, axisTick: xt, splitLine: {show: false},
    axisLabel: {customValues: xLabelValues, formatter: v => v.toFixed(2), fontSize: 10, color: '#000', margin: 5, fontFamily: SANS},
    name: '{a|Energy Shift / cm}{s|-1}', nameLocation: 'middle', nameGap: 19,
    nameTextStyle: {rich: {
      a: {fontSize: 12, fontFamily: SANS, color: '#000', lineHeight: 15, verticalAlign: 'bottom'},
      s: {fontSize: 7.5, fontFamily: SANS, color: '#000', lineHeight: 9, verticalAlign: 'top'}
    }}
  });
  xAxes.push({
    gridIndex: i, type: 'value', position: 'top', min: xMinAll[i], max: xMax,
    axisLine: axLine, axisTick: xt, splitLine: {show: false}, axisLabel: {show: false}
  });
  yAxes.push({
    gridIndex: i, type: 'value', position: 'left', min: yMin, max: yMax,
    axisLine: axLine, axisTick: yt, splitLine: {show: false}, axisLabel: {show: false}
  });
  yAxes.push({
    gridIndex: i, type: 'value', position: 'right', min: yMin, max: yMax,
    axisLine: axLine, axisTick: yt, splitLine: {show: false}, axisLabel: {show: false}
  });
  series.push({
    type: 'line', xAxisIndex: 2 * i, yAxisIndex: 2 * i, data: redAll[i],
    showSymbol: false, symbol: 'none', lineStyle: {color: '#ff0000', width: 1.4}, clip: true, z: 2
  });
  const stickData = [];
  sticksAll[i].forEach(([x, h]) => { stickData.push([x, 0], [x, h], [x, 0]); });
  series.push({
    type: 'line', xAxisIndex: 2 * i, yAxisIndex: 2 * i, data: stickData,
    showSymbol: false, symbol: 'none', lineStyle: {color: '#000', width: 1.6}, clip: true, z: 3,
    markLine: {silent: true, symbol: ['none', 'none'], label: {show: false},
      lineStyle: {color: '#000', width: 1.8, type: 'solid'}, data: [{yAxis: 0}]}
  });
  graphics.push({type: 'text', x: nuPos[i][0], y: nuPos[i][1],
    style: {text: panelLabels[i], fontSize: 13, fontFamily: SANS, fill: '#000', align: 'right', verticalAlign: 'middle'}});
  graphics.push({type: 'text', x: e0Pos[i][0], y: e0Pos[i][1],
    style: {text: '{e|E}{b|0}{e| = ' + e0Values[i] + ' cm}{p|-1}', align: 'left', verticalAlign: 'middle',
      rich: {
        e: {fontSize: 10, fontWeight: 'bold', fontFamily: SERIF, fill: '#000', lineHeight: 11, padding: [0, 0, 2, 0], verticalAlign: 'top'},
        b: {fontSize: 6.5, fontWeight: 'bold', fontFamily: SERIF, fill: '#000', lineHeight: 7, verticalAlign: 'bottom'},
        p: {fontSize: 6.5, fontWeight: 'bold', fontFamily: SERIF, fill: '#000', lineHeight: 7, verticalAlign: 'top'}
      }}});
  graphics.push({type: 'text', x: yTitlePos[i][0], y: yTitlePos[i][1], rotation: Math.PI / 2,
    style: {text: 'Transition Intensity', fontSize: 12, fontFamily: SANS, fill: '#000', align: 'center', verticalAlign: 'middle'}});
}

const chart = echarts.init(document.getElementById('c'), null, {renderer: 'canvas'});
chart.setOption({
  animation: false, backgroundColor: '#fff',
  grid: grids, xAxis: xAxes, yAxis: yAxes, series: series, graphic: graphics
});
</script></body></html>
